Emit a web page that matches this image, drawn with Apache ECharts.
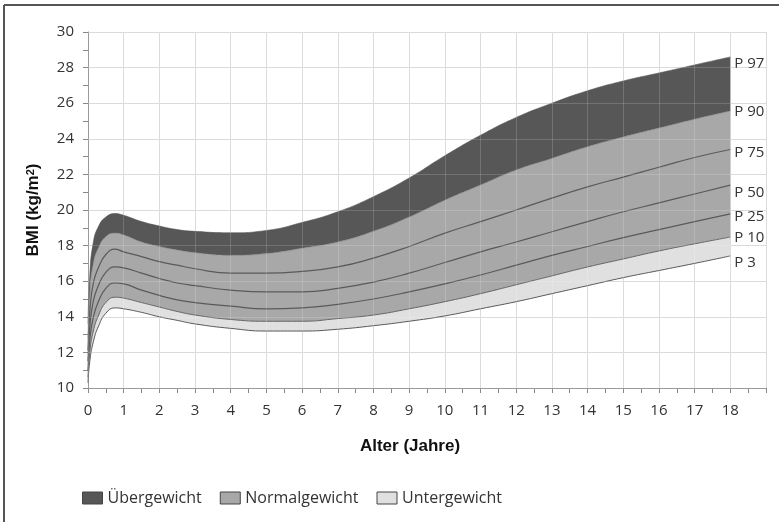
<!DOCTYPE html>
<html>
<head>
<meta charset="utf-8">
<script src="https://cdn.jsdelivr.net/npm/echarts@6/dist/echarts.min.js"></script>
<style>
html,body{margin:0;padding:0;background:#fff;}
#chart{width:779px;height:522px;}
</style>
</head>
<body>
<div id="chart"></div>
<script>
// Alter (Jahre)
var ages = [0, 0.05, 0.15, 0.3, 0.5, 0.75, 1, 1.5, 2, 2.5, 3, 4, 5, 6, 7, 8, 9, 10, 11, 12, 13, 14, 15, 16, 17, 18];
// BMI percentiles
var p3  = [10.3, 11.5, 12.6, 13.5, 14.2, 14.5, 14.45, 14.25, 14.0, 13.8, 13.6, 13.35, 13.2, 13.2, 13.3, 13.5, 13.75, 14.05, 14.45, 14.85, 15.3, 15.75, 16.2, 16.6, 17.0, 17.42];
var p10 = [10.6, 12.0, 13.2, 14.1, 14.8, 15.1, 15.05, 14.8, 14.55, 14.3, 14.1, 13.85, 13.75, 13.75, 13.9, 14.1, 14.45, 14.85, 15.3, 15.8, 16.3, 16.8, 17.25, 17.7, 18.1, 18.48];
var p25 = [11.0, 12.7, 14.0, 14.9, 15.6, 15.9, 15.85, 15.5, 15.2, 14.95, 14.8, 14.6, 14.45, 14.5, 14.7, 15.0, 15.4, 15.85, 16.35, 16.9, 17.45, 17.95, 18.45, 18.9, 19.35, 19.78];
var p50 = [11.5, 13.4, 14.9, 15.8, 16.5, 16.8, 16.75, 16.45, 16.15, 15.9, 15.75, 15.5, 15.4, 15.4, 15.6, 15.95, 16.45, 17.05, 17.65, 18.2, 18.78, 19.35, 19.9, 20.4, 20.9, 21.4];
var p75 = [12.1, 14.3, 15.9, 16.8, 17.5, 17.8, 17.65, 17.38, 17.1, 16.9, 16.7, 16.45, 16.45, 16.55, 16.8, 17.3, 17.95, 18.7, 19.35, 20.0, 20.67, 21.3, 21.85, 22.4, 22.95, 23.4];
var p90 = [12.8, 15.3, 17.0, 17.9, 18.5, 18.7, 18.6, 18.2, 17.95, 17.75, 17.6, 17.45, 17.55, 17.85, 18.2, 18.8, 19.6, 20.55, 21.4, 22.25, 22.9, 23.55, 24.1, 24.6, 25.1, 25.56];
var p97 = [13.6, 16.3, 18.2, 19.1, 19.6, 19.8, 19.7, 19.35, 19.1, 18.9, 18.8, 18.72, 18.85, 19.3, 19.9, 20.75, 21.8, 23.05, 24.2, 25.2, 26.0, 26.7, 27.25, 27.7, 28.15, 28.6];
var bandNames = ['Übergewicht', 'Normalgewicht', 'Untergewicht'];
var bandColors = ['#575757', '#a8a8a8', '#e0e0e0'];

// data rows are [bmi, age] so the stacked dimension is the BMI value
function rows(vals) { return ages.map(function (a, i) { return [vals[i], a]; }); }
function diffRows(hi, lo) { return ages.map(function (a, i) { return [+(hi[i] - lo[i]).toFixed(3), a]; }); }
var enc = { x: 1, y: 0 };

var lblFont = { fontFamily: 'Open Sans', fontSize: 15, color: '#333' };
function endLbl(txt, dy) {
  return { show: true, formatter: txt, fontFamily: 'Open Sans', fontSize: 15, color: '#333', distance: 4, offset: [0, dy] };
}
var smoothCfg = 0.5;

var chart = echarts.init(document.getElementById('chart'));
chart.setOption({
  animation: false,
  backgroundColor: '#fff',
  graphic: [
    { type: 'line', shape: { x1: 4, y1: 5, x2: 779, y2: 5 }, style: { stroke: '#555', lineWidth: 2 } },
    { type: 'line', shape: { x1: 4, y1: 5, x2: 4, y2: 522 }, style: { stroke: '#555', lineWidth: 2 } }
  ],
  grid: { left: 88, right: 13, top: 32, bottom: 134 },
  legend: {
    left: 77, top: 485, itemWidth: 20, itemHeight: 12, itemGap: 18, icon: 'rect',
    textStyle: { fontFamily: 'Open Sans', fontSize: 16, color: '#333' },
    data: bandNames.map(function (n, i) {
      return { name: n, icon: 'rect', itemStyle: { color: bandColors[i], borderColor: '#444', borderWidth: 1 } };
    })
  },
  xAxis: [{
    type: 'value', min: 0, max: 19, interval: 1,
    name: 'Alter (Jahre)', nameLocation: 'middle', nameGap: 50,
    nameTextStyle: { fontFamily: 'Liberation Sans', fontWeight: 'bold', fontSize: 17, color: '#111', padding: [0, 34, 0, 0] },
    axisLine: { lineStyle: { color: '#888', width: 1 } },
    axisTick: { length: 5, lineStyle: { color: '#888' } },
    minorTick: { show: true, splitNumber: 2, length: 5, lineStyle: { color: '#888' } },
    axisLabel: Object.assign({ margin: 15, formatter: function (v) { return v > 18 ? '' : String(v); } }, lblFont),
    splitLine: { show: true, lineStyle: { color: '#d4d4d4', width: 1 } }
  }, {
    type: 'value', min: 0, max: 19, interval: 1, z: 10,
    axisLine: { show: false }, axisTick: { show: false }, axisLabel: { show: false },
    splitLine: { show: true, lineStyle: { color: 'rgba(255,255,255,0.16)', width: 1 } }
  }],
  yAxis: [{
    type: 'value', min: 10, max: 30, interval: 2,
    name: 'BMI (kg/m{sup|2})', nameLocation: 'middle', nameGap: 46,
    nameTextStyle: { fontFamily: 'Liberation Sans', fontWeight: 'bold', fontSize: 17, color: '#111',
      rich: { sup: { fontFamily: 'Liberation Sans', fontWeight: 'bold', fontSize: 11, color: '#111', verticalAlign: 'top', padding: [0, 0, 6, 0] } } },
    axisLine: { show: true, lineStyle: { color: '#888', width: 1 } },
    axisTick: { show: true, length: 5, lineStyle: { color: '#888' } },
    minorTick: { show: true, splitNumber: 2, length: 5, lineStyle: { color: '#888' } },
    axisLabel: Object.assign({ margin: 14 }, lblFont),
    splitLine: { show: true, lineStyle: { color: '#d4d4d4', width: 1 } }
  }, {
    type: 'value', min: 10, max: 30, interval: 2, z: 10,
    axisLine: { show: false }, axisTick: { show: false }, axisLabel: { show: false },
    splitLine: { show: true, lineStyle: { color: 'rgba(255,255,255,0.16)', width: 1 } }
  }],
  series: [
    { type: 'line', name: 'P3', stack: 'b', encode: enc, data: rows(p3), smooth: smoothCfg, showSymbol: false,
      lineStyle: { color: '#5a5a5a', width: 1 }, endLabel: endLbl('P 3', 7) },
    { type: 'line', name: bandNames[2], stack: 'b', encode: enc, data: diffRows(p10, p3), smooth: smoothCfg, showSymbol: false,
      itemStyle: { color: bandColors[2] },
      lineStyle: { color: '#666', width: 1 }, areaStyle: { color: bandColors[2], opacity: 1 }, endLabel: endLbl('P 10', 1) },
    { type: 'line', name: bandNames[1], stack: 'b', encode: enc, data: diffRows(p90, p10), smooth: smoothCfg, showSymbol: false,
      itemStyle: { color: bandColors[1] },
      lineStyle: { color: '#888', width: 0.6 }, areaStyle: { color: bandColors[1], opacity: 1 }, endLabel: endLbl('P 90', 1) },
    { type: 'line', name: bandNames[0], stack: 'b', encode: enc, data: diffRows(p97, p90), smooth: smoothCfg, showSymbol: false,
      itemStyle: { color: bandColors[0] },
      lineStyle: { color: '#555', width: 0.6 }, areaStyle: { color: bandColors[0], opacity: 1 }, endLabel: endLbl('P 97', 7) },
    { type: 'line', name: 'P25', encode: enc, data: rows(p25), smooth: smoothCfg, showSymbol: false,
      lineStyle: { color: '#5a5a5a', width: 1.2 }, endLabel: endLbl('P 25', 3) },
    { type: 'line', name: 'P50', encode: enc, data: rows(p50), smooth: smoothCfg, showSymbol: false,
      lineStyle: { color: '#5a5a5a', width: 1.2 }, endLabel: endLbl('P 50', 8) },
    { type: 'line', name: 'P75', encode: enc, data: rows(p75), smooth: smoothCfg, showSymbol: false,
      lineStyle: { color: '#5a5a5a', width: 1.2 }, endLabel: endLbl('P 75', 3) }
  ]
});
</script>
</body>
</html>
